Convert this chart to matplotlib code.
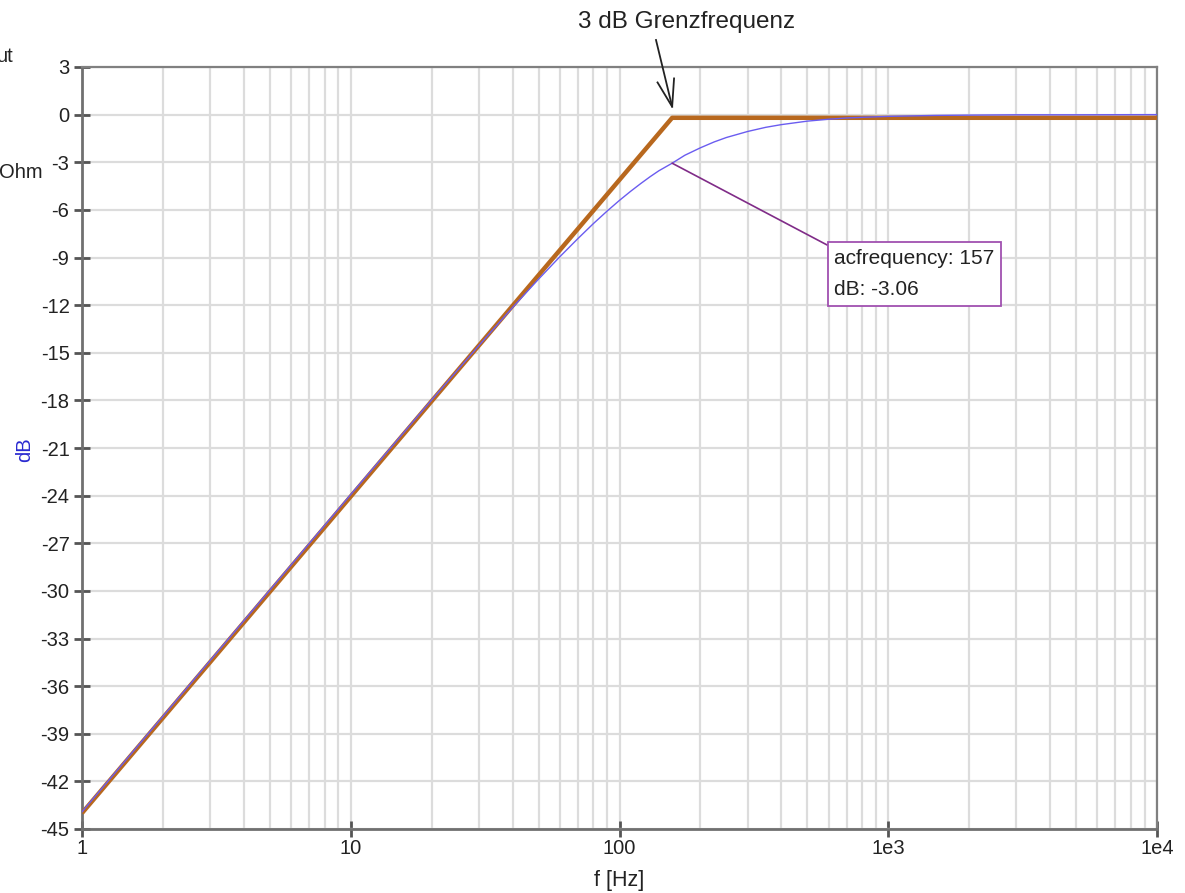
import numpy as np
import matplotlib
matplotlib.use("Agg")
import matplotlib.pyplot as plt
from matplotlib.lines import Line2D
from matplotlib.transforms import IdentityTransform
from matplotlib.ticker import FixedLocator, FixedFormatter, LogLocator, NullFormatter

plt.rcParams["font.family"] = ["Liberation Sans", "DejaVu Sans"]

# --- data ---
# asymptote (Bode approximation)
asym_f = [1, 157, 10000]
asym_db = [-44.0, -0.2, -0.2]

# simulated response (blue curve)
resp_f = [1, 2, 5, 10, 20, 30, 40, 50, 60, 70, 80, 90, 100, 110, 120, 130,
          140, 157, 175, 200, 225, 250, 300, 350, 400, 500, 600, 700, 800,
          1000, 1500, 2000, 3000, 5000, 10000]
resp_db = [-43.92, -37.9, -29.95, -23.93, -17.97, -14.54, -12.15, -10.36,
           -8.95, -7.81, -6.86, -6.07, -5.40, -4.83, -4.34, -3.91, -3.54,
           -3.06, -2.56, -2.09, -1.72, -1.44, -1.06, -0.80, -0.63, -0.41,
           -0.29, -0.21, -0.17, -0.11, -0.05, -0.03, -0.01, -0.01, 0.0]

marker_f, marker_db = 157, -3.06

x_ticks = [1, 10, 100, 1000, 10000]
x_tick_labels = ["1", "10", "100", "1e3", "1e4"]
y_ticks = list(range(3, -46, -3))

# --- figure ---
W, H = 1185, 893
fig = plt.figure(figsize=(W / 100, H / 100), dpi=100)
ax = fig.add_axes([82 / W, 1 - 829 / H, (1157 - 82) / W, (829 - 67) / H])

ax.plot(asym_f, asym_db, color="#b8681e", lw=3.2, solid_capstyle="butt", zorder=3)
ax.plot(resp_f, resp_db, color="#6a5cf0", lw=1.0, zorder=4)

ax.set_xscale("log")
ax.set_xlim(1, 10000)
ax.set_ylim(-45, 3)

ax.xaxis.set_major_locator(FixedLocator(x_ticks))
ax.xaxis.set_major_formatter(FixedFormatter(x_tick_labels))
ax.xaxis.set_minor_locator(LogLocator(base=10, subs=range(2, 10)))
ax.xaxis.set_minor_formatter(NullFormatter())
ax.set_yticks(y_ticks)
ax.set_yticklabels([str(v) for v in y_ticks])

ax.grid(True, which="both", axis="x", color="#dcdcdc", lw=1.6, zorder=0)
ax.grid(True, which="major", axis="y", color="#dcdcdc", lw=1.6, zorder=0)
ax.set_axisbelow(True)

for side in ["left", "bottom"]:
    ax.spines[side].set_color("#707070")
    ax.spines[side].set_linewidth(2)
for side in ["top", "right"]:
    ax.spines[side].set_color("#808080")
    ax.spines[side].set_linewidth(1.6)

ax.tick_params(axis="both", which="major", direction="inout", length=12,
               width=2, color="#555555", labelsize=14.5, labelcolor="#222222")
ax.tick_params(axis="x", which="major", pad=1)
ax.tick_params(axis="y", which="major", pad=3)
ax.tick_params(axis="x", which="minor", length=0)

ax.set_xlabel("f [Hz]", fontsize=15.5, color="#222222", labelpad=9)
fig.text(25 / W, 1 - 450 / H, "dB", rotation=90, color="#2a2ad0",
         fontsize=14.5, ha="center", va="center")

# cut-off labels of other axes at the left edge
fig.text(13 / W, 1 - 57 / H, "ut", fontsize=14.5, color="#222222",
         ha="right", va="center")
fig.text(43 / W, 1 - 172 / H, "Ohm", fontsize=14.5, color="#222222",
         ha="right", va="center")

# 3 dB annotation: text plus an open arrow pointing at the corner
fig.text(687 / W, 1 - 22 / H, "3 dB Grenzfrequenz", fontsize=17.5,
         color="#222222", ha="center", va="center")
tip = ax.transData.transform((157, 0.5))
tail = np.array([656.0, H - 40.0])
d = (tip - tail) / np.hypot(*(tip - tail))
n = np.array([-d[1], d[0]])
head_len, head_half = 27, 8.5
barb1 = tip - d * head_len + n * head_half
barb2 = tip - d * head_len - n * head_half
for seg in ([tail, tip], [barb1, tip, barb2]):
    seg = np.array(seg)
    fig.add_artist(Line2D(seg[:, 0], seg[:, 1], transform=IdentityTransform(),
                          color="#222222", lw=1.3, zorder=7))

# marker callout
ax.annotate("acfrequency: %d\ndB: %.2f" % (marker_f, marker_db),
            xy=(marker_f, marker_db), xytext=(834, H - 274),
            textcoords="figure pixels", ha="left", va="center",
            fontsize=15, color="#222222", linespacing=1.85,
            bbox=dict(boxstyle="square,pad=0.3", fc="white", ec="#a050b0", lw=1.3),
            arrowprops=dict(arrowstyle="-", color="#802c88", lw=1.2,
                            relpos=(0, 1), shrinkA=0, shrinkB=0),
            zorder=6)

fig.savefig("out.png", dpi=100)
